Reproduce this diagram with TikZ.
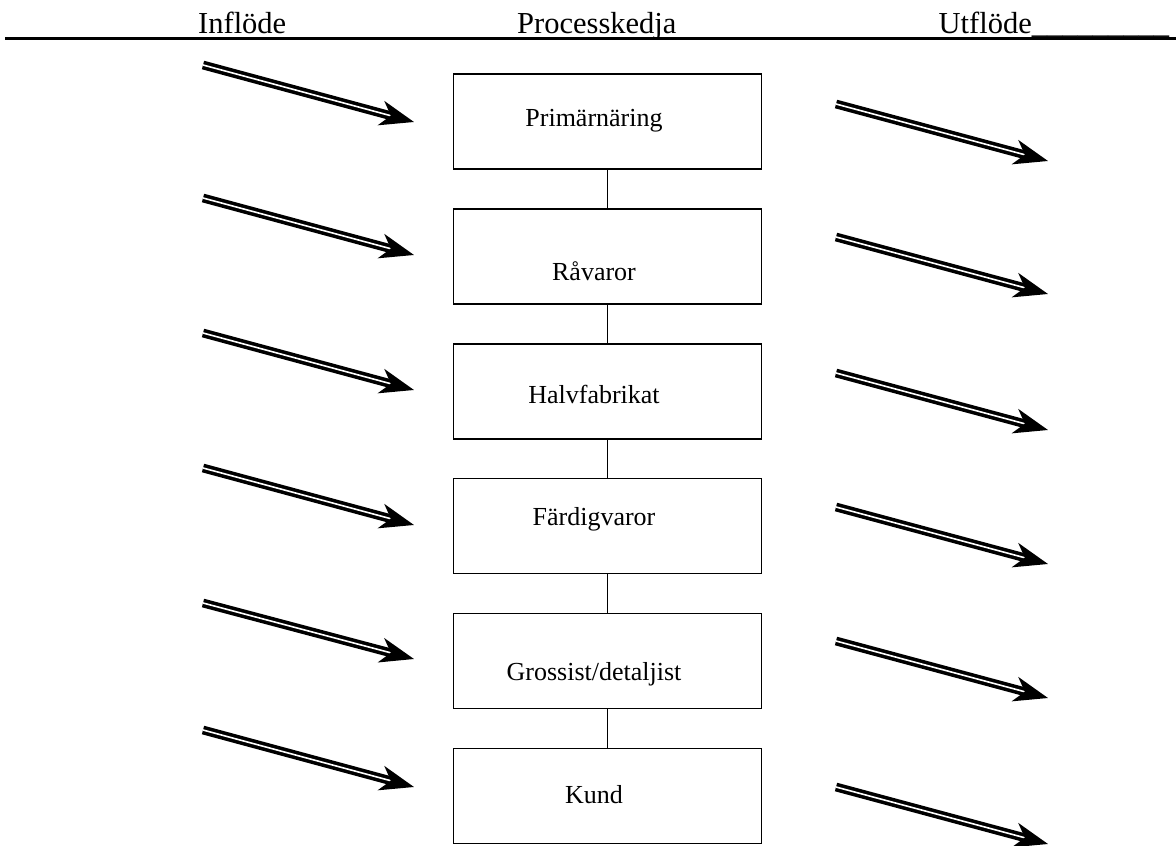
\documentclass[tikz,border=0pt]{standalone}
\usepackage{fontspec}
\setmainfont{Liberation Serif}
\usepackage{tikz}
\usetikzlibrary{arrows.meta, positioning, calc}
\tikzset{
  % Header and chain styles
  header/.style={anchor=base west, inner sep=0pt, font=\fontsize{30.5pt}{36pt}\selectfont},
  stage/.style={rectangle, minimum width=308pt, minimum height=95pt, inner sep=0pt, draw=black, line width=1.5pt},
  stagetext/.style={anchor=base, inner sep=0pt, font=\fontsize{26pt}{31pt}\selectfont},
  link/.style={line width=1.5pt},
  flow/.style={double, line width=3.6pt, double distance=1.6pt, -{Stealth[length=34pt, width=25pt, inset=10pt]}},
}
\begin{document}
\begin{tikzpicture}[x=1pt, y=-1pt, node distance=38.4pt]
    \useasboundingbox (0,0) rectangle (1176,846);

    % Header
    \node[header] (inflow) at (198,33.3) {Inflöde};
    \node[header] (chain) at (517,33.3) {Processkedja};
    \node[header] (outflow) at (938.5,33.3) {Utflöde\_\_\_\_\_\_\_\_\_};
    \coordinate (rulel) at (5,38.5);
    \coordinate (ruler) at (1176,38.5);
    \draw[line width=2.8pt] (rulel) -- (ruler);

    % Process chain
    \node[stage] (prim) at (607.5,121.5) {};
    \node[stage, below=of prim] (rav) {};
    \node[stage, below=of rav] (halv) {};
    \node[stage, below=of halv] (fard) {};
    \node[stage, below=of fard] (gross) {};
    \node[stage, below=of gross] (kund) {};

    \node[stagetext] at ($(prim.center)+(-13.5,5.2)$) {Primärnäring};
    \node[stagetext] at ($(rav.center)+(-13.5,23.9)$) {Råvaror};
    \node[stagetext] at ($(halv.center)+(-13.5,12)$) {Halvfabrikat};
    \node[stagetext] at ($(fard.center)+(-13.5,-0.3)$) {Färdigvaror};
    \node[stagetext] at ($(gross.center)+(-13.5,19.1)$) {Grossist/detaljist};
    \node[stagetext] at ($(kund.center)+(-13.5,7.2)$) {Kund};

    \draw[link] (prim) -- (rav);
    \draw[link] (rav) -- (halv);
    \draw[link] (halv) -- (fard);
    \draw[link] (fard) -- (gross);
    \draw[link] (gross) -- (kund);

    % Inflow arrows
    \coordinate (in1) at (203,65);   \coordinate (in1e) at (414,122);
    \coordinate (in2) at (203,198);  \coordinate (in2e) at (414,255);
    \coordinate (in3) at (203,333);  \coordinate (in3e) at (414,390);
    \coordinate (in4) at (203,468);  \coordinate (in4e) at (414,525);
    \coordinate (in5) at (203,603);  \coordinate (in5e) at (414,659);
    \coordinate (in6) at (203,730);  \coordinate (in6e) at (414,787);
    \draw[flow] (in1) -- (in1e);
    \draw[flow] (in2) -- (in2e);
    \draw[flow] (in3) -- (in3e);
    \draw[flow] (in4) -- (in4e);
    \draw[flow] (in5) -- (in5e);
    \draw[flow] (in6) -- (in6e);

    % Outflow arrows
    \coordinate (out1) at (836,104);  \coordinate (out1e) at (1048,161);
    \coordinate (out2) at (836,237);  \coordinate (out2e) at (1048,294);
    \coordinate (out3) at (836,373);  \coordinate (out3e) at (1048,430);
    \coordinate (out4) at (836,507);  \coordinate (out4e) at (1048,564);
    \coordinate (out5) at (836,641);  \coordinate (out5e) at (1048,698);
    \coordinate (out6) at (836,787);  \coordinate (out6e) at (1048,844);
    \draw[flow] (out1) -- (out1e);
    \draw[flow] (out2) -- (out2e);
    \draw[flow] (out3) -- (out3e);
    \draw[flow] (out4) -- (out4e);
    \draw[flow] (out5) -- (out5e);
    \draw[flow] (out6) -- (out6e);
\end{tikzpicture}
\end{document}
